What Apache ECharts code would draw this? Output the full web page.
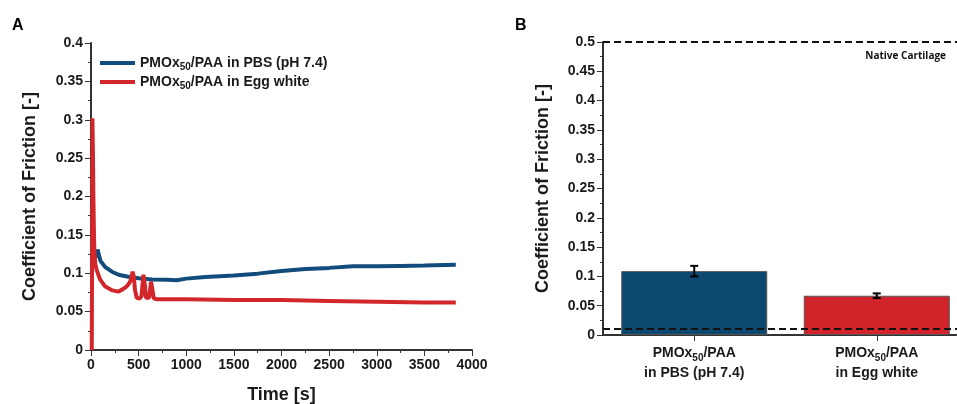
<!DOCTYPE html>
<html>
<head>
<meta charset="utf-8">
<script src="https://cdn.jsdelivr.net/npm/echarts@6/dist/echarts.min.js"></script>
<style>
html,body{margin:0;padding:0;background:#fff;}
#main{width:957px;height:404px;}
</style>
</head>
<body>
<div id="main"></div>
<script>
// ---- Panel A: coefficient of friction vs time ----
const timeBlue = [60, 70, 80, 100, 150, 220, 290, 390, 500, 640, 800, 900, 1000, 1200, 1500, 1750, 2000, 2250, 2500, 2750, 3000, 3250, 3500, 3830];
const cofBlue  = [0.12, 0.131, 0.125, 0.116, 0.108, 0.102, 0.098, 0.0955, 0.0935, 0.092, 0.0915, 0.091, 0.093, 0.095, 0.097, 0.0995, 0.103, 0.1055, 0.107, 0.109, 0.109, 0.1095, 0.110, 0.111];
const timeRed  = [8, 12, 15, 20, 25, 30, 35, 45, 60, 95, 147, 217, 285, 330, 357, 390, 415, 437, 450, 462, 480, 510, 530, 550, 565, 577, 610, 630, 645, 660, 700, 1000, 1500, 2000, 2500, 3000, 3500, 3830];
const cofRed   = [0, 0.15, 0.302, 0.26, 0.2, 0.16, 0.13, 0.112, 0.104, 0.092, 0.083, 0.078, 0.076, 0.079, 0.081, 0.085, 0.09, 0.102, 0.095, 0.078, 0.068, 0.067, 0.07, 0.098, 0.085, 0.068, 0.068, 0.089, 0.088, 0.067, 0.066, 0.066, 0.065, 0.065, 0.064, 0.063, 0.062, 0.062];
const seriesNames = ['PBS (pH 7.4)', 'Egg white'];

// ---- Panel B: mean coefficient of friction ----
const barCategories = ['in PBS (pH 7.4)', 'in Egg white'];
const barValues = [0.109, 0.067];
const barErrors = [0.009, 0.004];
const refLines = [0.5, 0.006];
const refLabels = ['Native Cartilage', ''];

const blue = '#124c7c';
const red = '#d2262b';
const barBlue = '#0c4870';
const barRed = '#d0232a';
const ink = '#1a1a1a';
const FONT = '"Liberation Sans", Arial, sans-serif';

const pairs = (xs, ys) => xs.map((x, i) => [x, ys[i]]);

const richSub = {
  a: { fontFamily: FONT, fontSize: 14, fontWeight: 'bold', color: ink, lineHeight: 18 },
  s: { fontFamily: FONT, fontSize: 10, fontWeight: 'bold', color: ink, lineHeight: 18, verticalAlign: 'bottom', padding: [7, 0, 0, 0] }
};

const chart = echarts.init(document.getElementById('main'), null, { renderer: 'canvas' });

function axisCommon() {
  return {
    axisLine: { show: true, onZero: false, lineStyle: { color: '#333', width: 2 } },
    axisTick: { show: true, length: 6, lineStyle: { color: '#333', width: 1 } },
    minorTick: { show: true, splitNumber: 2, length: 3, lineStyle: { color: '#333', width: 1 } },
    splitLine: { show: false },
    axisLabel: { fontFamily: FONT, fontSize: 14, fontWeight: 'bold', color: ink, formatter: v => String(v) }
  };
}

const option = {
  animation: false,
  backgroundColor: '#fff',
  title: [
    { text: 'A', left: 7, top: 13, textStyle: { fontFamily: FONT, fontSize: 16, fontWeight: 'bold', color: '#000' } },
    { text: 'B', left: 510, top: 13, textStyle: { fontFamily: FONT, fontSize: 16, fontWeight: 'bold', color: '#000' } }
  ],
  legend: {
    left: 95, top: 50, orient: 'vertical', itemGap: 2,
    icon: 'rect', itemWidth: 35, itemHeight: 4,
    data: seriesNames,
    formatter: n => '{a|PMOx}{s|50}{a|/PAA in ' + n + '}',
    textStyle: { rich: richSub }
  },
  grid: [
    { left: 91, top: 43, width: 381, height: 307, outerBoundsMode: 'none' },
    { left: 603, top: 42, width: 365, height: 293, outerBoundsMode: 'none' }
  ],
  xAxis: [
    Object.assign(axisCommon(), {
      type: 'value', gridIndex: 0, min: 0, max: 4000, interval: 500,
      name: 'Time [s]', nameLocation: 'middle', nameGap: 36,
      nameTextStyle: { fontFamily: FONT, fontSize: 18, fontWeight: 'bold', color: ink }
    }),
    Object.assign(axisCommon(), {
      type: 'category', gridIndex: 1, data: barCategories,
      axisTick: { show: true, alignWithLabel: true, length: 6, lineStyle: { color: '#333', width: 1 } },
      minorTick: { show: false },
      axisLabel: {
        margin: 8, interval: 0,
        formatter: v => '{a|PMOx}{s|50}{a|/PAA}\n{a|' + v + '}',
        rich: { a: { fontFamily: FONT, fontSize: 14, fontWeight: 'bold', color: ink, lineHeight: 20 },
                s: { fontFamily: FONT, fontSize: 10, fontWeight: 'bold', color: ink, lineHeight: 20, verticalAlign: 'bottom', padding: [7, 0, 0, 0] } }
      }
    })
  ],
  yAxis: [
    Object.assign(axisCommon(), {
      type: 'value', gridIndex: 0, min: 0, max: 0.4, interval: 0.05,
      name: 'Coefficient of Friction [-]', nameLocation: 'middle', nameGap: 52,
      nameTextStyle: { fontFamily: FONT, fontSize: 18, fontWeight: 'bold', color: ink }
    }),
    Object.assign(axisCommon(), {
      type: 'value', gridIndex: 1, min: 0, max: 0.5, interval: 0.05,
      name: 'Coefficient of Friction [-]', nameLocation: 'middle', nameGap: 51,
      nameTextStyle: { fontFamily: FONT, fontSize: 18, fontWeight: 'bold', color: ink }
    })
  ],
  series: [
    {
      name: seriesNames[0], type: 'line', xAxisIndex: 0, yAxisIndex: 0,
      data: pairs(timeBlue, cofBlue), showSymbol: false, z: 2,
      color: blue, lineStyle: { color: blue, width: 4 }
    },
    {
      name: seriesNames[1], type: 'line', xAxisIndex: 0, yAxisIndex: 0,
      data: pairs(timeRed, cofRed), showSymbol: false, z: 3,
      color: red, lineStyle: { color: red, width: 4 }
    },
    {
      type: 'bar', xAxisIndex: 1, yAxisIndex: 1, barWidth: '80%',
      data: barValues.map((v, i) => ({ value: v, itemStyle: { color: i === 0 ? barBlue : barRed, borderColor: '#555', borderWidth: 1 } })),
      markLine: {
        silent: true, symbol: 'none', z: 10,
        lineStyle: { color: '#111', width: 2, type: [7, 4] },
        label: { show: true, position: 'insideEndBottom', distance: [22, 9],
          fontFamily: '"Open Sans", sans-serif', fontSize: 10, fontWeight: 'bold', color: '#111',
          formatter: p => refLabels[refLines.indexOf(p.value)] || '' },
        data: refLines.map(v => ({ yAxis: v }))
      }
    },
    {
      type: 'custom', xAxisIndex: 1, yAxisIndex: 1, z: 5,
      data: barValues.map((v, i) => [i, v - barErrors[i], v + barErrors[i]]),
      renderItem: (params, api) => {
        const lo = api.coord([api.value(0), api.value(1)]);
        const hi = api.coord([api.value(0), api.value(2)]);
        const w = 4;
        const st = { stroke: '#000', lineWidth: 2 };
        return { type: 'group', children: [
          { type: 'line', shape: { x1: lo[0], y1: lo[1], x2: hi[0], y2: hi[1] }, style: st },
          { type: 'line', shape: { x1: lo[0] - w, y1: lo[1], x2: lo[0] + w, y2: lo[1] }, style: st },
          { type: 'line', shape: { x1: hi[0] - w, y1: hi[1], x2: hi[0] + w, y2: hi[1] }, style: st }
        ]};
      }
    }
  ]
};
chart.setOption(option);
</script>
</body>
</html>
